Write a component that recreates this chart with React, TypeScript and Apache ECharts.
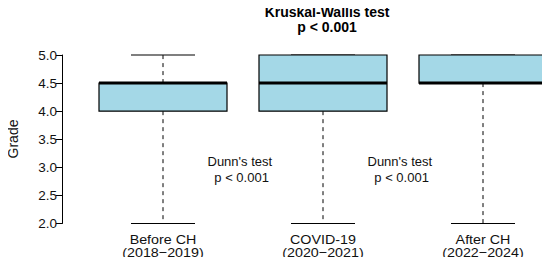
import React, { useEffect, useRef } from "react";
import * as echarts from "echarts";

const categories = ["Before CH\n(2018−2019)", "COVID-19\n(2020−2021)", "After CH\n(2022−2024)"];
const positions = [1, 2, 3];
const lowerWhisker = [2.0, 2.0, 2.0];
const q1Values = [4.0, 4.0, 4.5];
const medianValues = [4.5, 4.5, 4.5];
const q3Values = [4.5, 5.0, 5.0];
const upperWhisker = [5.0, 5.0, 5.0];
const yMin = 2.0;
const yMax = 5.0;
const yStep = 0.5;
const yAxisTitle = "Grade";
const titleText = "Kruskal-Wallis test";
const titleSub = "p < 0.001";
const dunnLabels = ["Dunn's test\n p < 0.001", "Dunn's test\n p < 0.001"];
const dunnPositions = [1.48, 2.48];
const dunnY = [2.96, 2.96];

const FONT = "'Liberation Sans', Arial, Helvetica, sans-serif";

export default function App() {
  const ref = useRef<HTMLDivElement>(null);
  useEffect(() => {
    if (!ref.current) return;
    const chart = echarts.init(ref.current, undefined, { renderer: "svg" });
    const boxData = positions.map((p, i) => [
      p,
      lowerWhisker[i],
      q1Values[i],
      medianValues[i],
      q3Values[i],
      upperWhisker[i],
      i,
    ]);
    const dunnData = dunnPositions.map((p, i) => [p, dunnY[i], i]);
    const option: any = {
      animation: false,
      backgroundColor: "#ffffff",
      title: {
        text: titleText,
        subtext: titleSub,
        left: 322,
        top: 0,
        textAlign: "center",
        itemGap: 1,
        textStyle: { fontSize: 14, fontWeight: "bold", color: "#000", fontFamily: FONT },
        subtextStyle: { fontSize: 14, fontWeight: "bold", color: "#000", fontFamily: FONT },
      },
      graphic: [
        {
          type: "text",
          x: 13,
          y: 139,
          rotation: Math.PI / 2,
          style: {
            x: 0,
            y: 0,
            text: yAxisTitle,
            align: "center",
            verticalAlign: "middle",
            fontSize: 14,
            fill: "#111",
            fontFamily: FONT,
          },
        },
      ],
      grid: { left: 62, right: 0, top: 55, bottom: 41.5, outerBoundsMode: "none", containLabel: false },
      xAxis: {
        type: "value",
        min: 0.36875,
        max: 3.41875,
        show: false,
      },
      yAxis: {
        type: "value",
        min: yMin,
        max: yMax,
        interval: yStep,
        axisLine: { show: true, lineStyle: { color: "#000", width: 1 } },
        axisTick: { show: true, length: 6, lineStyle: { color: "#000", width: 1 } },
        axisLabel: {
          fontSize: 13.5,
          color: "#111",
          margin: 5,
          fontFamily: FONT,
          formatter: (v: number) => v.toFixed(1),
        },
        splitLine: { show: false },
      },
      series: [
        {
          type: "custom",
          data: boxData,
          clip: false,
          renderItem: (params: any, api: any) => {
            const x = api.value(0);
            const lo = api.value(1);
            const q1 = api.value(2);
            const med = api.value(3);
            const q3 = api.value(4);
            const hi = api.value(5);
            const idx = api.value(6);
            const half = 0.4;
            const capHalf = 0.2;
            const cx = api.coord([x, q1])[0];
            const left = api.coord([x - half, q1])[0];
            const right = api.coord([x + half, q1])[0];
            const capL = api.coord([x - capHalf, q1])[0];
            const capR = api.coord([x + capHalf, q1])[0];
            const yq1 = api.coord([x, q1])[1];
            const yq3 = api.coord([x, q3])[1];
            const ymed = api.coord([x, med])[1];
            const ylo = api.coord([x, lo])[1];
            const yhi = api.coord([x, hi])[1];
            const children: any[] = [];
            if (lo < q1) {
              children.push({
                type: "line",
                shape: { x1: cx, y1: yq1, x2: cx, y2: ylo },
                style: { stroke: "#000", lineWidth: 1, lineDash: [4, 4] },
              });
            }
            if (hi > q3) {
              children.push({
                type: "line",
                shape: { x1: cx, y1: yq3, x2: cx, y2: yhi },
                style: { stroke: "#000", lineWidth: 1, lineDash: [4, 4] },
              });
            }
            children.push({
              type: "line",
              shape: { x1: capL, y1: ylo, x2: capR, y2: ylo },
              style: { stroke: "#000", lineWidth: 1.2 },
            });
            children.push({
              type: "line",
              shape: { x1: capL, y1: yhi, x2: capR, y2: yhi },
              style: { stroke: "#000", lineWidth: 1.2 },
            });
            children.push({
              type: "rect",
              shape: { x: left, y: yq3, width: right - left, height: yq1 - yq3 },
              style: { fill: "#A4D8E7", stroke: "#000", lineWidth: 1.2 },
            });
            children.push({
              type: "line",
              shape: { x1: left, y1: ymed, x2: right, y2: ymed },
              style: { stroke: "#000", lineWidth: 3 },
            });
            children.push({
              type: "text",
              x: cx,
              y: ylo + 9,
              scaleX: 1.1,
              style: {
                x: 0,
                y: 0,
                text: categories[idx],
                align: "center",
                verticalAlign: "top",
                fontSize: 13,
                lineHeight: 13.5,
                fill: "#111",
                fontFamily: FONT,
              },
            });
            return { type: "group", children };
          },
          z: 2,
        },
        {
          type: "custom",
          data: dunnData,
          clip: false,
          renderItem: (params: any, api: any) => {
            const p = api.coord([api.value(0), api.value(1)]);
            const idx = api.value(2);
            return {
              type: "text",
              x: p[0],
              y: p[1],
              style: {
                x: 0,
                y: 0,
                text: dunnLabels[idx],
                align: "center",
                verticalAlign: "middle",
                fontSize: 13,
                lineHeight: 16,
                fill: "#111",
                fontFamily: FONT,
              },
            };
          },
          z: 3,
        },
      ],
    };
    chart.setOption(option);
    return () => chart.dispose();
  }, []);
  return <div ref={ref} style={{ width: 550, height: 265, margin: -8 }} />;
}
